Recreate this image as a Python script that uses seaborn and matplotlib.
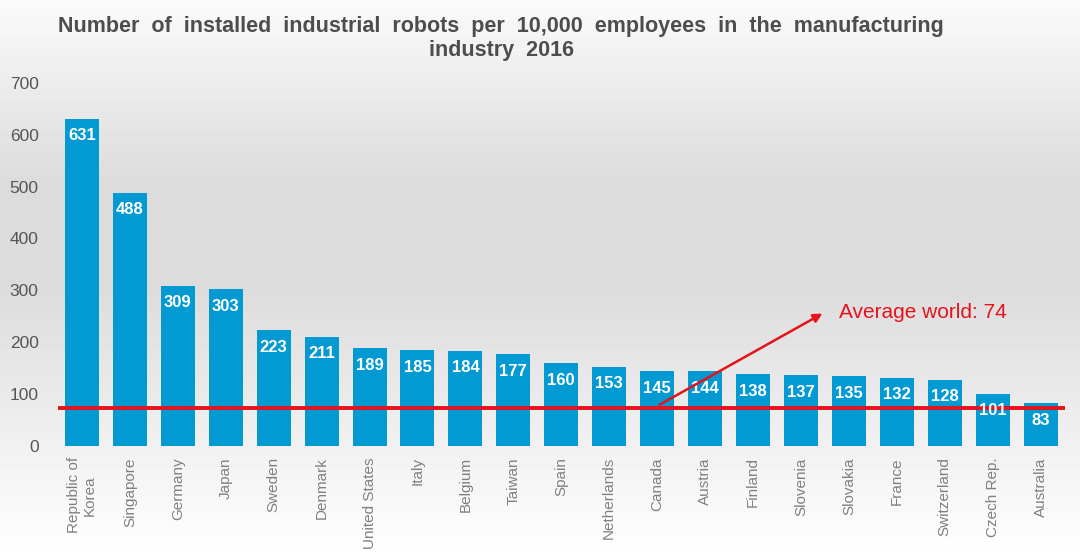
import numpy as np
import pandas as pd
import matplotlib.pyplot as plt
import seaborn as sns

# data
countries = ["Republic of\nKorea", "Singapore", "Germany", "Japan", "Sweden", "Denmark",
             "United States", "Italy", "Belgium", "Taiwan", "Spain", "Netherlands", "Canada",
             "Austria", "Finland", "Slovenia", "Slovakia", "France", "Switzerland",
             "Czech Rep.", "Australia"]
robots = [631, 488, 309, 303, 223, 211, 189, 185, 184, 177, 160, 153, 145, 144,
          138, 137, 135, 132, 128, 101, 83]
world_avg = 74
yticks = [0, 100, 200, 300, 400, 500, 600, 700]

df = pd.DataFrame({"country": countries, "robots": robots})

sns.set_style("white")
plt.rcParams["font.family"] = ["Liberation Sans", "DejaVu Sans"]

fig = plt.figure(figsize=(10.8, 5.59), dpi=100)

# soft grey gradient background
bg = fig.add_axes([0, 0, 1, 1], zorder=-10)
grad = np.concatenate([np.linspace(0.98, 0.86, 40), np.linspace(0.86, 0.86, 20),
                       np.linspace(0.86, 1.0, 60)])
bg.imshow(grad[:, None], aspect="auto", cmap="gray", vmin=0, vmax=1,
          extent=[0, 1, 0, 1])
bg.axis("off")

ax = fig.add_axes([0.0537, 0.202, 0.932, 0.650])
ax.patch.set_alpha(0)
sns.barplot(data=df, x="country", y="robots", color="#0399D3", saturation=1,
            width=0.71, linewidth=0, ax=ax)

for i, v in enumerate(robots):
    ax.annotate(str(v), (i, v), xytext=(0, -7), textcoords="offset points",
                ha="center", va="top", color="white", fontsize=12, fontweight="bold",
                zorder=5)

ax.axhline(world_avg, color="#E5131B", lw=2.8, zorder=4)
ax.annotate("", xy=(15.5, 258), xytext=(12, world_avg + 3),
            arrowprops=dict(arrowstyle="-|>", color="#E5131B", lw=1.8,
                            mutation_scale=13), zorder=6)
ax.text(15.8, 258, "Average world: 74", color="#E5131B", fontsize=15,
        va="center", ha="left", zorder=6)

ax.set_xlim(-0.5, 20.5)
ax.set_ylim(0, 700)
ax.set_yticks(yticks)
ax.tick_params(axis="y", labelsize=12.5, colors="#555555", length=0, pad=14)
ax.tick_params(axis="x", labelsize=11, colors="#808080", length=0, pad=8)
ax.set_xticks(range(len(countries)))
ax.set_xticklabels(countries, rotation=90, va="top", ha="center")
ax.set_xlabel("")
ax.set_ylabel("")
sns.despine(ax=ax, left=True, bottom=True)

fig.text(0.464, 0.972,
         "Number  of  installed  industrial  robots  per  10,000  employees  in  the  manufacturing\nindustry  2016",
         ha="center", va="top", fontsize=15.5, fontweight="bold", color="#4d4d4d",
         linespacing=1.2)

fig.savefig("out.png", dpi=100)
